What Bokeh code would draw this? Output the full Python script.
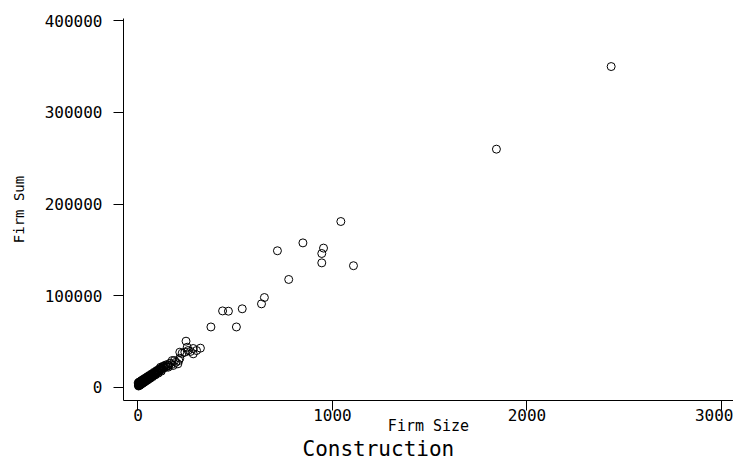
from bokeh.plotting import figure
from bokeh.models import FixedTicker, NumeralTickFormatter, Range1d, Title, ColumnDataSource
from bokeh.embed import file_html
from bokeh.resources import INLINE

# Firm size (x) and firm sum (y)
band_size = [2, 3, 4, 5, 6, 7, 8, 9, 10, 11, 12, 13, 14, 15, 16, 17, 18, 19, 20, 22, 23, 24,
             26, 27, 28, 30, 31, 33, 35, 36, 38, 40, 41, 43, 45, 46, 48, 50, 52, 54, 56, 58,
             60, 62, 64, 66, 68, 70, 73, 75, 78, 80, 82, 85, 88, 90, 93, 95, 98, 100, 103,
             106, 110, 113, 117, 120, 124, 128, 132, 136, 140, 145, 150, 155]
band_sum = [2500, 3800, 2200, 3000, 4200, 2800, 3600, 4800, 3100, 4000, 5200, 3500, 4500, 5800,
            4100, 5000, 6300, 4600, 5500, 6800, 5100, 6200, 7400, 5800, 6900, 8000, 6400, 7500,
            8700, 7000, 8200, 9500, 7800, 9000, 10300, 8500, 9800, 11000, 9300, 10600, 12000,
            10200, 11500, 12800, 11000, 12400, 13700, 12000, 13300, 14600, 13000, 14300, 15600,
            14000, 15500, 16800, 15200, 17000, 18200, 16500, 18000, 19300, 17800, 19500, 20500,
            19200, 21000, 22400, 21000, 23000, 24300, 22500, 25000, 23800]
band2_size = [1, 3, 5, 7, 9, 12, 15, 18, 21, 25, 29, 33, 37, 42, 47, 52, 57, 63, 69, 75, 82,
              89, 96, 104, 112, 120, 130]
band2_sum = [5000, 1600, 5700, 2200, 6200, 2900, 7100, 3700, 8000, 4700, 9100, 5800, 10200,
             7100, 11600, 8500, 13000, 10000, 14700, 11700, 16500, 13700, 18400, 15600, 20700,
             17800, 23200]
mid_size = [155, 158, 165, 172, 181, 188, 195, 205, 210, 215, 215, 227, 241, 247, 258, 270,
            284, 284, 301, 321, 253, 116, 176]
mid_sum = [22100, 24000, 26500, 25000, 24000, 29400, 27500, 25800, 29400, 31900, 38500, 37400,
           38500, 50500, 40300, 39300, 42500, 36700, 40300, 42900, 43900, 22100, 29400]
big_size = [2433, 1843, 1043, 848, 717, 954, 945, 945, 1108, 775, 650, 635, 536, 465, 435, 506, 375]
big_sum = [350000, 259900, 181000, 157700, 149100, 152000, 146100, 135900, 132800, 117800,
           98100, 91200, 85800, 83200, 83500, 66000, 66000]

x_ticks = [0, 1000, 2000, 3000]
y_ticks = [0, 100000, 200000, 300000, 400000]

xs = band_size + band2_size + mid_size + big_size
ys = band_sum + band2_sum + mid_sum + big_sum
src = ColumnDataSource(data=dict(x=xs, y=ys))

MONO = "DejaVu Sans Mono"

p = figure(width=733, height=466, output_backend="svg", toolbar_location=None,
           x_range=Range1d(-74.5, 3062), y_range=Range1d(-14200, 402400),
           min_border_left=123, min_border_right=0, min_border_top=18, min_border_bottom=66,
           background_fill_color="white", border_fill_color="white")
p.outline_line_color = None
p.grid.visible = False

p.scatter("x", "y", source=src, marker="circle", size=8, fill_color=None,
          line_color="black", line_width=1)

for ax in (p.xaxis[0], p.yaxis[0]):
    ax.axis_line_color = "black"
    ax.major_tick_line_color = "black"
    ax.minor_tick_line_color = None
    ax.major_tick_in = 0
    ax.major_tick_out = 10
    ax.major_label_text_font = MONO
    ax.major_label_text_font_size = "16px"
    ax.major_label_text_color = "black"
    ax.axis_label_text_font = MONO
    ax.axis_label_text_font_style = "normal"
    ax.axis_label_text_color = "black"

p.xaxis.ticker = FixedTicker(ticks=x_ticks)
p.yaxis.ticker = FixedTicker(ticks=y_ticks)
p.xaxis.formatter = NumeralTickFormatter(format="0")
p.yaxis.formatter = NumeralTickFormatter(format="0")

p.xaxis.major_label_standoff = -2
p.xaxis.axis_label = "Firm Size"
p.xaxis.axis_label_text_font_size = "15px"
p.xaxis.axis_label_standoff = -7

p.yaxis.major_label_standoff = 11
p.yaxis.major_label_orientation = "horizontal"
p.yaxis.axis_label = "Firm Sum"
p.yaxis.axis_label_text_font_size = "14px"
p.yaxis.axis_label_standoff = 15

t = Title(text="Construction", align="left", offset=179, standoff=-6,
          text_font=MONO, text_font_size="21px", text_font_style="normal", text_color="black")
p.add_layout(t, "below")

open("out.html", "w").write(file_html(p, INLINE))
